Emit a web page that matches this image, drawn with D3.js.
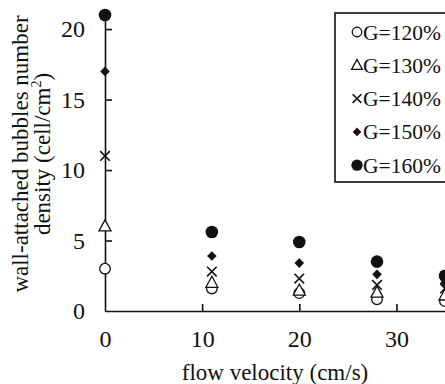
<!DOCTYPE html>
<html><head><meta charset="utf-8">
<script src="https://cdn.jsdelivr.net/npm/d3@7"></script>
<style>html,body{margin:0;padding:0;background:#fff;overflow:hidden}
svg text{font-family:'Liberation Serif','Times New Roman',serif !important;fill:#111}</style>
</head><body>
<script>
const velocity = [0, 11, 20, 28, 35];
const g120 = [3.0, 1.6, 1.27, 0.83, 0.7];
const g130 = [6.0, 2.0, 1.45, 1.3, 1.1];
const g140 = [11.0, 2.8, 2.3, 1.85, 1.6];
const g150 = [17.0, 3.9, 3.4, 2.6, 2.0];
const g160 = [21.0, 5.6, 4.9, 3.5, 2.5];
const seriesNames = ["G=120%", "G=130%", "G=140%", "G=150%", "G=160%"];
const seriesValues = [g120, g130, g140, g150, g160];
const seriesMarkers = ["circle", "triangle", "cross", "diamond", "dot"];
const xTicks = [0, 10, 20, 30];
const yTicks = [0, 5, 10, 15, 20];

const W = 445, H = 384;
const svg = d3.select("body").append("svg").attr("width", W).attr("height", H);

const x = d3.scaleLinear().domain([0, 35]).range([105, 445]);
const y = d3.scaleLinear().domain([0, 21]).range([311, 15]);

const xAxis = d3.axisBottom(x).tickValues(xTicks).tickSizeInner(-7).tickSizeOuter(0).tickPadding(18.5);
const yAxis = d3.axisLeft(y).tickValues(yTicks).tickSizeInner(-7).tickSizeOuter(0).tickPadding(20);

const gx = svg.append("g").attr("transform", `translate(0,${y(0)})`).call(xAxis);
const gy = svg.append("g").attr("transform", `translate(${x(0)},0)`).call(yAxis);
[gx, gy].forEach(g => {
  g.selectAll("path,line").attr("stroke", "#111").attr("stroke-width", 1.6);
  g.selectAll("text").style("font-size", "24px");
});
gy.selectAll(".tick").filter(d => d === 0).select("line").remove();
gx.selectAll(".tick").filter(d => d === 0).select("line").remove();

function drawMarker(g, type, cx, cy, s) {
  const c = "#111";
  if (type === "circle") {
    g.append("circle").attr("cx", cx).attr("cy", cy).attr("r", 5.3 * s).attr("fill", "#fff").attr("stroke", c).attr("stroke-width", 1.3);
  } else if (type === "dot") {
    g.append("circle").attr("cx", cx).attr("cy", cy).attr("r", 6.3 * s).attr("fill", c);
  } else if (type === "triangle") {
    g.append("path").attr("transform", `translate(${cx},${cy}) scale(${s})`)
      .attr("d", "M0,-6.5L6,4.5L-6,4.5Z").attr("fill", "#fff").attr("stroke", c).attr("stroke-width", 1.3 / s);
  } else if (type === "cross") {
    g.append("path").attr("transform", `translate(${cx},${cy}) scale(${s})`)
      .attr("d", "M-4.8,-4.8L4.8,4.8M-4.8,4.8L4.8,-4.8").attr("fill", "none").attr("stroke", c).attr("stroke-width", 1.6 / s);
  } else if (type === "diamond") {
    g.append("path").attr("transform", `translate(${cx},${cy}) scale(${s})`)
      .attr("d", "M0,-4.8L4.8,0L0,4.8L-4.8,0Z").attr("fill", c);
  }
}

const marks = svg.append("g");
seriesValues.forEach((vals, i) => {
  vals.forEach((v, j) => drawMarker(marks, seriesMarkers[i], x(velocity[j]), y(v), 1));
});

// legend
const lg = svg.append("g");
lg.append("rect").attr("x", 335).attr("y", 13).attr("width", 140).attr("height", 169)
  .attr("fill", "#fff").attr("stroke", "#111").attr("stroke-width", 1.6);
seriesNames.forEach((n, i) => {
  const cy = 32 + i * 33.3;
  drawMarker(lg, seriesMarkers[i], 357, cy, 0.9);
  lg.append("text").attr("x", 363).attr("y", cy + 7.5).style("font-size", "21.5px").text(n);
});

// axis titles
svg.append("text").attr("x", 275).attr("y", 380).attr("text-anchor", "middle")
  .style("font-size", "23px").text("flow velocity (cm/s)");
const yt = svg.append("g").attr("transform", "translate(0,154) rotate(-90)");
yt.append("text").attr("x", 0).attr("y", 28).attr("text-anchor", "middle")
  .style("font-size", "23px").text("wall-attached bubbles number");
const t2 = yt.append("text").attr("x", 0).attr("y", 50).attr("text-anchor", "middle")
  .style("font-size", "23px");
t2.append("tspan").text("density (cell/cm");
t2.append("tspan").style("font-size", "14px").attr("dy", -9).text("2");
t2.append("tspan").attr("dy", 9).text(")");
</script>
</body></html>
